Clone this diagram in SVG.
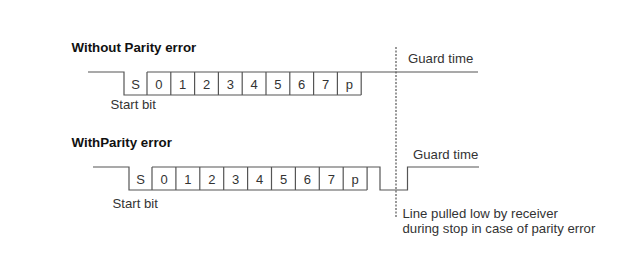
<svg xmlns="http://www.w3.org/2000/svg" width="624" height="269" viewBox="0 0 624 269">
<style>
.w{fill:none;stroke:#555;stroke-width:1.2}
.d{fill:none;stroke:#555;stroke-width:1.2;stroke-dasharray:2 1.5}
.t{font-family:"Liberation Sans",Arial,sans-serif;font-size:13.2px;fill:#333}
.c{font-family:"Liberation Sans",Arial,sans-serif;font-size:13px;fill:#333;text-anchor:middle}
.h{font-family:"Liberation Sans",Arial,sans-serif;font-size:13.3px;font-weight:bold;fill:#111}
</style>
<rect width="624" height="269" fill="#fff"/>
<g id="top-waveform">
<text class="h" x="71.5" y="52">Without Parity error</text>
<path class="w" d="M88,72 H124 V95 H361.2 M147,72 H478 M147,72 V95 M170.8,72 V95 M194.6,72 V95 M218.4,72 V95 M242.2,72 V95 M266,72 V95 M289.8,72 V95 M313.6,72 V95 M337.4,72 V95 M361.2,72 V95"/>
<text class="c" x="135.5" y="88.5">S</text>
<text class="c" x="158.9" y="88.5">0</text>
<text class="c" x="182.7" y="88.5">1</text>
<text class="c" x="206.5" y="88.5">2</text>
<text class="c" x="230.3" y="88.5">3</text>
<text class="c" x="254.1" y="88.5">4</text>
<text class="c" x="277.9" y="88.5">5</text>
<text class="c" x="301.7" y="88.5">6</text>
<text class="c" x="325.5" y="88.5">7</text>
<text class="c" x="349.3" y="88.5">p</text>
<text class="t" x="110.5" y="109">Start bit</text>
<text class="t" x="408" y="63">Guard time</text>
</g>
<g id="bottom-waveform">
<text class="h" x="71.5" y="147">WithParity error</text>
<path class="w" d="M93,167 H129 V190 H367.1 M152,167 H380 V190 H407.5 V167 H479 M152,167 V190 M175.9,167 V190 M199.8,167 V190 M223.7,167 V190 M247.6,167 V190 M271.5,167 V190 M295.4,167 V190 M319.3,167 V190 M343.2,167 V190 M367.1,167 V190"/>
<text class="c" x="140.5" y="183.5">S</text>
<text class="c" x="164" y="183.5">0</text>
<text class="c" x="187.9" y="183.5">1</text>
<text class="c" x="211.8" y="183.5">2</text>
<text class="c" x="235.7" y="183.5">3</text>
<text class="c" x="259.6" y="183.5">4</text>
<text class="c" x="283.5" y="183.5">5</text>
<text class="c" x="307.4" y="183.5">6</text>
<text class="c" x="331.3" y="183.5">7</text>
<text class="c" x="355.2" y="183.5">p</text>
<text class="t" x="112.5" y="208">Start bit</text>
<text class="t" x="413" y="159">Guard time</text>
</g>
<g id="connectors">
<path class="d" d="M396,47 V218"/>
</g>
<g id="note">
<text class="t" x="402.5" y="217.5">Line pulled low by receiver</text>
<text class="t" x="402.5" y="232.5">during stop in case of parity error</text>
</g>
</svg>
